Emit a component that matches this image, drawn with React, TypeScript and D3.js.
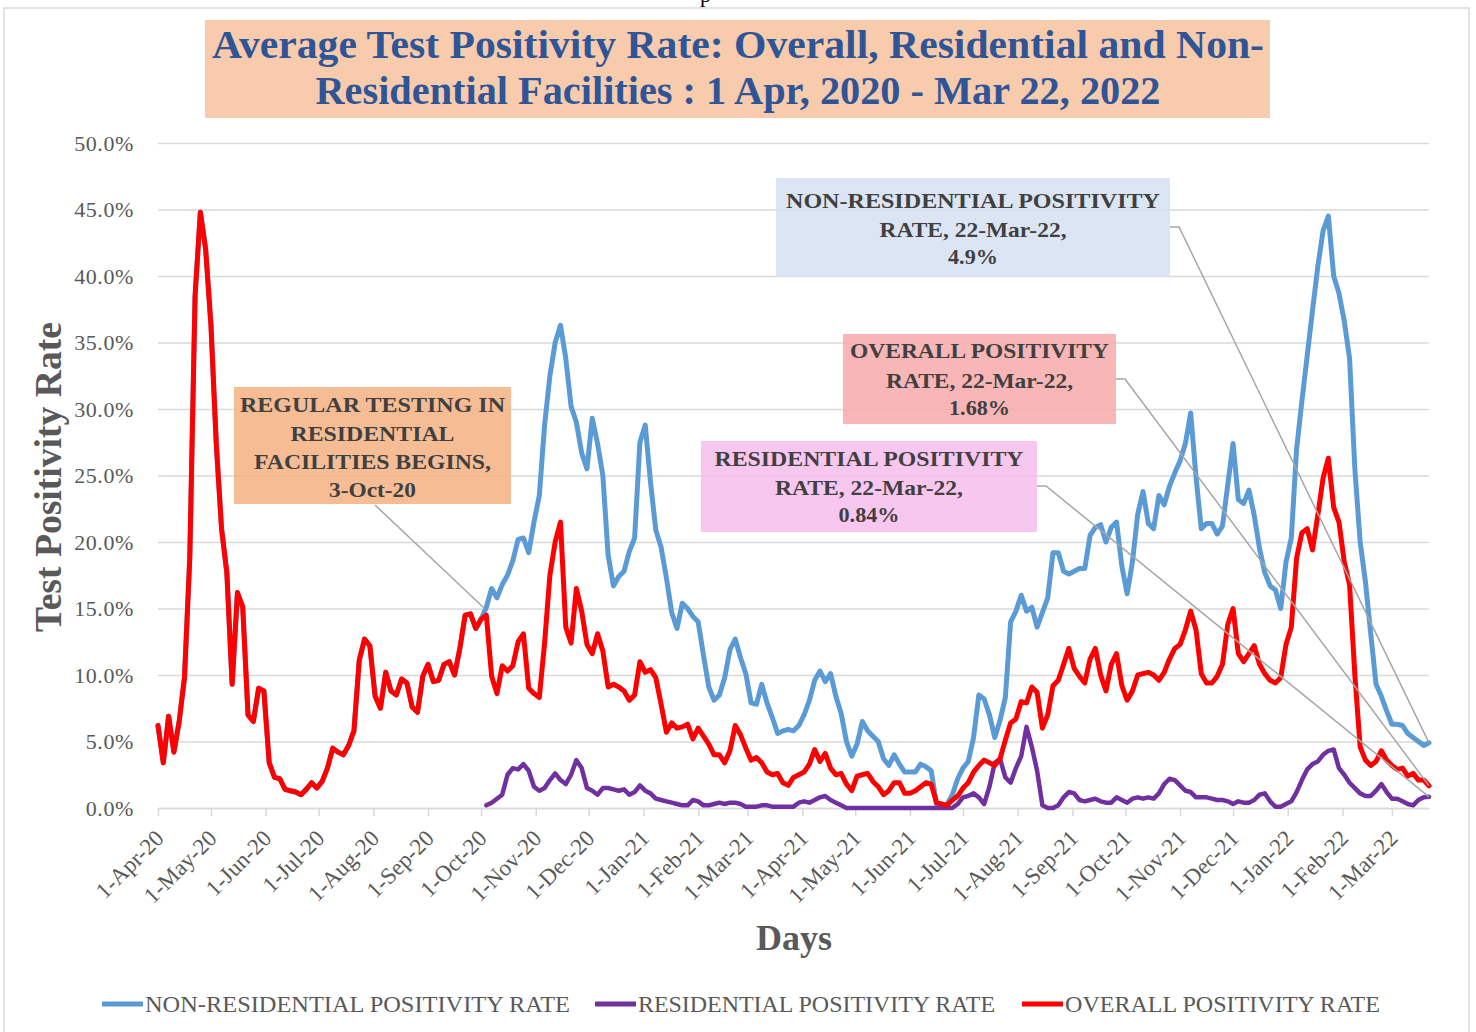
import * as d3 from "d3";
import { useEffect, useRef } from "react";

const START = new Date(2020, 3, 1);
const END = new Date(2022, 2, 22);
const STEP_DAYS = 3;

// 1-Apr-20 .. 1-Oct-20, every 3 days: no residential testing yet, so overall == non-residential
const EARLY = [
  6.2, 3.4, 6.9, 4.2, 6.5, 9.8, 18.8, 38.5, 44.8, 42.0,
  36.3, 27.4, 21.0, 17.7, 9.3, 16.2, 15.1, 7.0, 6.5, 9.0,
  8.8, 3.4, 2.3, 2.2, 1.4, 1.3, 1.2, 1.0, 1.4, 1.9,
  1.5, 2.0, 3.0, 4.5, 4.2, 4.0, 4.7, 5.8, 11.1, 12.7,
  12.2, 8.4, 7.5, 10.2, 8.8, 8.5, 9.7, 9.4, 7.6, 7.2,
  9.9, 10.8, 9.5, 9.6, 10.8, 11.0, 10.0, 12.0, 14.5, 14.6,
  13.5, 14.2,
];

// 4-Oct-20 .. 22-Mar-22, every 3 days
const NONRES_LATE = [
  15.1, 16.5, 15.8, 16.8, 17.5, 18.6, 20.2, 20.3, 19.2, 21.5,
  23.5, 28.8, 32.5, 35.0, 36.3, 33.8, 30.2, 29.0, 26.7, 25.5,
  29.3, 27.4, 25.0, 19.0, 16.7, 17.4, 17.8, 19.3, 20.3, 27.5,
  28.8, 24.5, 20.9, 19.6, 17.3, 14.7, 13.5, 15.4, 15.0, 14.4,
  14.0, 11.5, 9.1, 8.1, 8.5, 9.8, 11.9, 12.7, 11.3, 10.1,
  7.9, 7.8, 9.3, 7.9, 6.8, 5.6, 5.8, 5.9, 5.8, 6.2,
  7.0, 8.1, 9.6, 10.3, 9.5, 10.1, 8.4, 7.1, 5.0, 3.9,
  4.8, 6.5, 5.8, 5.4, 5.0, 3.7, 3.2, 4.0, 3.3, 2.7,
  2.7, 2.7, 3.3, 3.1, 2.8, 0.3, 0.2, 0.3, 1.0, 2.2,
  3.0, 3.5, 5.3, 8.5, 8.2, 7.0, 5.3, 6.6, 8.3, 14.0,
  14.8, 16.0, 14.8, 15.1, 13.6, 14.7, 15.8, 19.2, 19.2, 17.8,
  17.6, 17.8, 18.0, 18.0, 20.5, 21.1, 21.3, 20.0, 21.1, 21.5,
  18.2, 16.1, 18.5, 22.1, 23.8, 21.4, 21.0, 23.5, 22.8, 24.2,
  25.2, 26.1, 27.4, 29.7, 24.9, 21.0, 21.4, 21.4, 20.6, 21.2,
  24.3, 27.4, 23.2, 22.9, 23.9, 22.0, 19.5, 17.7, 16.7, 16.4,
  15.0, 18.5, 20.3, 27.0, 30.6, 34.0, 37.4, 40.7, 43.4, 44.5,
  40.0, 38.7, 36.6, 33.8, 25.5, 20.0, 17.0, 13.1, 9.3, 8.4,
  7.3, 6.3, 6.3, 6.2, 5.6, 5.3, 5.0, 4.7, 4.9,
];

const OVERALL_LATE = [
  14.5, 9.9, 8.6, 10.7, 10.3, 10.7, 12.5, 13.1, 9.0, 8.6,
  8.3, 12.4, 17.5, 20.0, 21.5, 13.6, 12.4, 16.5, 14.8, 12.3,
  11.6, 13.1, 11.8, 9.1, 9.3, 9.1, 8.8, 8.1, 8.5, 11.0,
  10.2, 10.4, 9.8, 7.8, 5.7, 6.4, 6.0, 6.1, 6.3, 5.2,
  6.0, 5.4, 4.8, 4.0, 4.0, 3.4, 4.3, 6.2, 5.5, 4.5,
  3.6, 3.8, 3.4, 2.7, 2.5, 2.6, 1.9, 1.7, 2.3, 2.5,
  2.7, 3.3, 4.4, 3.5, 4.1, 3.0, 2.5, 2.6, 1.8, 1.3,
  2.4, 2.5, 2.6, 2.0, 1.6, 1.0, 1.3, 1.9, 1.9, 1.1,
  1.1, 1.3, 1.6, 1.9, 1.8, 0.4, 0.3, 0.2, 0.6, 0.9,
  1.5, 1.9, 2.7, 3.2, 3.6, 3.4, 3.2, 3.7, 5.1, 6.4,
  6.7, 8.0, 7.9, 9.1, 8.7, 6.0, 7.0, 9.2, 9.6, 10.8,
  12.0, 10.5, 9.9, 9.4, 11.2, 12.0, 10.0, 8.8, 10.8, 11.6,
  9.2, 8.1, 8.8, 10.0, 10.1, 10.2, 10.0, 9.6, 10.2, 11.2,
  12.0, 12.3, 13.4, 14.8, 13.4, 10.1, 9.4, 9.4, 9.9, 10.8,
  13.8, 15.0, 11.6, 11.0, 11.6, 12.2, 10.8, 10.1, 9.6, 9.4,
  9.8, 12.3, 13.6, 18.8, 20.7, 21.0, 19.4, 22.0, 24.8, 26.3,
  22.6, 21.5, 18.5, 16.8, 10.0, 4.6, 3.6, 3.2, 3.5, 4.3,
  3.6, 3.2, 2.9, 3.0, 2.4, 2.6, 2.1, 2.1, 1.68,
];

const RES_LATE = [
  0.2, 0.4, 0.7, 1.0, 2.5, 3.0, 2.9, 3.3, 2.8, 1.6,
  1.3, 1.5, 2.1, 2.6, 2.1, 1.8, 2.5, 3.6, 3.0, 1.5,
  1.3, 1.0, 1.5, 1.5, 1.4, 1.3, 1.4, 1.0, 1.2, 1.7,
  1.3, 1.1, 0.7, 0.6, 0.5, 0.4, 0.3, 0.2, 0.2, 0.6,
  0.5, 0.2, 0.2, 0.3, 0.4, 0.3, 0.4, 0.4, 0.3, 0.1,
  0.1, 0.1, 0.2, 0.2, 0.1, 0.1, 0.1, 0.1, 0.1, 0.4,
  0.5, 0.4, 0.6, 0.8, 0.9, 0.6, 0.4, 0.2, 0.0, 0.0,
  0.0, 0.0, 0.0, 0.0, 0.0, 0.0, 0.0, 0.0, 0.0, 0.0,
  0.0, 0.0, 0.0, 0.0, 0.0, 0.0, 0.0, 0.0, 0.0, 0.3,
  0.8, 0.9, 1.1, 0.8, 0.3, 1.6, 3.4, 3.7, 2.3, 1.9,
  3.0, 3.9, 6.1, 4.6, 2.8, 0.2, 0.0, 0.0, 0.2, 0.8,
  1.2, 1.1, 0.6, 0.5, 0.6, 0.7, 0.5, 0.4, 0.4, 0.8,
  0.6, 0.4, 0.7, 0.8, 0.7, 0.8, 0.7, 1.1, 1.8, 2.2,
  2.1, 1.7, 1.3, 1.2, 0.8, 0.8, 0.8, 0.7, 0.6, 0.6,
  0.5, 0.3, 0.5, 0.4, 0.4, 0.6, 1.0, 1.1, 0.5, 0.1,
  0.1, 0.3, 0.5, 1.2, 2.1, 2.9, 3.3, 3.5, 4.0, 4.3,
  4.4, 3.0, 2.5, 1.9, 1.5, 1.1, 0.9, 0.9, 1.3, 1.8,
  1.2, 0.7, 0.7, 0.5, 0.3, 0.2, 0.6, 0.8, 0.84,
];

const Y_TICKS = [0, 5, 10, 15, 20, 25, 30, 35, 40, 45, 50];

const TITLE = [
  "Average Test Positivity Rate: Overall, Residential and Non-",
  "Residential Facilities : 1 Apr, 2020 - Mar 22, 2022",
];

const SERIES_NAMES = ["NON-RESIDENTIAL POSITIVITY RATE", "RESIDENTIAL POSITIVITY RATE", "OVERALL POSITIVITY RATE"];
const SERIES_COLORS = ["#5b9bd5", "#7030a0", "#ff0000"];

const RES_START = new Date(2020, 9, 3);
const RES_START_VALUE = 15.0;
const LAST_NONRES = 4.9;
const LAST_OVERALL = 1.68;
const LAST_RES = 0.84;

const NOTE_START = ["REGULAR TESTING IN", "RESIDENTIAL", "FACILITIES BEGINS,", "3-Oct-20"];
const NOTE_NONRES = ["NON-RESIDENTIAL POSITIVITY", "RATE, 22-Mar-22,", "4.9%"];
const NOTE_OVERALL = ["OVERALL POSITIVITY", "RATE, 22-Mar-22,", "1.68%"];
const NOTE_RES = ["RESIDENTIAL POSITIVITY", "RATE, 22-Mar-22,", "0.84%"];

export default function App() {
  const ref = useRef<SVGSVGElement | null>(null);

  useEffect(() => {
    const el = ref.current;
    if (!el) return;
    const svg = d3.select<SVGSVGElement, unknown>(el);
    svg.selectAll("*").remove();

    const width = 1476;
    const height = 1032;
    const plot = { left: 158, right: 1429, top: 143, bottom: 808 };
    const font = "'Palatino Linotype', 'Book Antiqua', Palatino, 'Liberation Serif', serif";
    const grey = "#595959";
    const dark = "#404040";
    const gridColor = "#d9d9d9";

    const dates = d3.range(EARLY.length + NONRES_LATE.length).map((i) => d3.timeDay.offset(START, i * STEP_DAYS));
    const nonres: (number | null)[] = EARLY.concat(NONRES_LATE);
    const overall: (number | null)[] = EARLY.concat(OVERALL_LATE);
    const res: (number | null)[] = (EARLY.map(() => null) as (number | null)[]).concat(RES_LATE);

    const x = d3.scaleTime().domain([START, END]).range([plot.left, plot.right]);
    const y = d3.scaleLinear().domain([0, 50]).range([plot.bottom, plot.top]);

    svg.attr("width", width).attr("height", height).attr("viewBox", `0 0 ${width} ${height}`);

    svg.append("rect").attr("width", width).attr("height", height).attr("fill", "#fff");
    svg
        .append("rect")
        .attr("x", 4)
        .attr("y", 8)
        .attr("width", 1465)
        .attr("height", height + 10)
        .attr("fill", "#fff")
        .attr("stroke", gridColor)
        .attr("stroke-width", 1.5);

    // fragment of the page text above the chart (only its descender shows, as in the source)
    svg.append("text").attr("x", 700).attr("y", 2).attr("font-family", font).attr("font-size", 22).attr("fill", "#000").text("p");

    // y axis with gridlines
    svg
        .append("g")
        .attr("transform", `translate(${plot.left},0)`)
        .call(
            d3
                .axisLeft(y)
                .tickValues(Y_TICKS)
                .tickSize(-(plot.right - plot.left))
                .tickPadding(24)
                .tickFormat((d) => `${(+d).toFixed(1)}%`)
        )
        .call((g) => g.select(".domain").remove())
        .call((g) => g.selectAll("line").attr("stroke", gridColor).attr("stroke-width", 1.5))
        .call((g) =>
            g
                .selectAll("text")
                .attr("fill", grey)
                .attr("font-family", font)
                .attr("font-size", 22)
                .attr("letter-spacing", 0.6)
        );

    // x axis
    svg
        .append("g")
        .attr("transform", `translate(0,${plot.bottom})`)
        .call(
            d3
                .axisBottom(x)
                .tickValues(d3.timeMonth.range(START, END))
                .tickSize(8)
                .tickSizeOuter(0)
                .tickFormat((d) => d3.timeFormat("%-d-%b-%y")(d as Date))
        )
        .call((g) => g.selectAll("path,line").attr("stroke", gridColor).attr("stroke-width", 1.5))
        .call((g) =>
            g
                .selectAll("text")
                .attr("fill", grey)
                .attr("font-family", font)
                .attr("font-size", 23)
                .attr("text-anchor", "end")
                .attr("x", 0)
                .attr("y", 0)
                .attr("dy", "0.35em")
                .attr("transform", "translate(1,26) rotate(-45)")
        );

    // axis titles
    svg
        .append("text")
        .attr("transform", "translate(61,477) rotate(-90)")
        .attr("text-anchor", "middle")
        .attr("font-family", font)
        .attr("font-size", 37)
        .attr("font-weight", 700)
        .attr("fill", grey)
        .attr("textLength", 310)
        .attr("lengthAdjust", "spacingAndGlyphs")
        .text("Test Positivity Rate");

    svg
        .append("text")
        .attr("x", 794)
        .attr("y", 950)
        .attr("text-anchor", "middle")
        .attr("font-family", font)
        .attr("font-size", 36)
        .attr("font-weight", 700)
        .attr("fill", grey)
        .text("Days");

    // series
    const line = d3
        .line<number | null>()
        .defined((v) => v != null)
        .x((_, i) => x(dates[i]))
        .y((v) => y(v as number));

    [nonres, res, overall].forEach((s, k) => {
      svg
          .append("path")
          .datum(s)
          .attr("d", line)
          .attr("fill", "none")
          .attr("stroke", SERIES_COLORS[k])
          .attr("stroke-width", k === 1 ? 4.5 : 5)
          .attr("stroke-linejoin", "round")
          .attr("stroke-linecap", "round");
    });

    // callouts
    const leader = (pts: [number, number][]) =>
        svg
            .append("path")
            .attr("d", d3.line()(pts))
            .attr("fill", "none")
            .attr("stroke", "#a6a6a6")
            .attr("stroke-width", 1.5);

    leader([[375, 505], [x(RES_START), y(RES_START_VALUE)]]);
    leader([[1170, 227], [1179, 227], [x(END), y(LAST_NONRES)]]);
    leader([[1116, 379], [1125, 379], [x(END), y(LAST_OVERALL)]]);
    leader([[1037, 486], [1046, 486], [x(END), y(LAST_RES)]]);

    const callout = (
        box: { x: number; y: number; w: number; h: number },
        fill: string,
        lines: string[],
        baselines: number[],
        widths: number[]
    ) => {
      svg
          .append("rect")
          .attr("x", box.x)
          .attr("y", box.y)
          .attr("width", box.w)
          .attr("height", box.h)
          .attr("fill", fill)
          .attr("fill-opacity", 0.85);
      lines.forEach((t, i) => {
        svg
            .append("text")
            .attr("x", box.x + box.w / 2)
            .attr("y", baselines[i])
            .attr("text-anchor", "middle")
            .attr("font-family", font)
            .attr("font-size", 22)
            .attr("font-weight", 700)
            .attr("fill", dark)
            .attr("textLength", widths[i])
            .attr("lengthAdjust", "spacingAndGlyphs")
            .text(t);
      });
    };

    callout({ x: 234, y: 387, w: 277, h: 117 }, "#f4b183", NOTE_START, [412, 441, 469, 497], [265, 164, 237, 87]);
    callout({ x: 776, y: 178, w: 394, h: 99 }, "#d6e0f2", NOTE_NONRES, [208, 237, 264], [374, 187, 50]);
    callout({ x: 843, y: 334, w: 273, h: 90 }, "#f7a9aa", NOTE_OVERALL, [358, 388, 415], [259, 187, 61]);
    callout({ x: 701, y: 441, w: 336, h: 91 }, "#f7bdec", NOTE_RES, [466, 495, 522], [309, 188, 61]);

    // title
    svg.append("rect").attr("x", 205).attr("y", 20).attr("width", 1065).attr("height", 98).attr("fill", "#f8cbad");
    const titleWidths = [1052, 845];
    TITLE.forEach((t, i) => {
      svg
          .append("text")
          .attr("x", 738)
          .attr("y", 58 + i * 46)
          .attr("text-anchor", "middle")
          .attr("font-family", font)
          .attr("font-size", 40)
          .attr("font-weight", 700)
          .attr("fill", "#2f5597")
          .attr("textLength", titleWidths[i])
          .attr("lengthAdjust", "spacingAndGlyphs")
          .text(t);
    });

    // legend
    const legendX = [102, 595, 1022];
    const legendW = [425, 357, 315];
    SERIES_NAMES.forEach((name, k) => {
      const g = svg.append("g").attr("transform", `translate(${legendX[k]},1004)`);
      g.append("line").attr("x1", 0).attr("x2", 41).attr("stroke", SERIES_COLORS[k]).attr("stroke-width", 5);
      g.append("text")
          .attr("x", 43)
          .attr("y", 8)
          .attr("font-family", font)
          .attr("font-size", 24)
          .attr("fill", grey)
          .attr("textLength", legendW[k])
          .attr("lengthAdjust", "spacingAndGlyphs")
          .text(name);
    });
  }, []);

  return <svg ref={ref} style={{ position: "absolute", left: 0, top: 0, display: "block" }} />;
}
